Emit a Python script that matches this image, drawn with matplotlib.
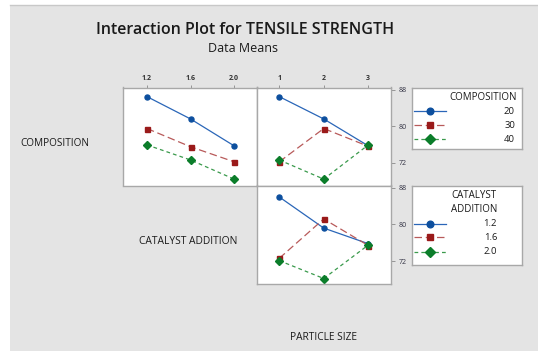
import matplotlib
matplotlib.use("Agg")
import matplotlib.pyplot as plt
from matplotlib.patches import Rectangle
from matplotlib.lines import Line2D

W, H = 538, 351

# Factor levels
composition = [20, 30, 40]
catalyst = [1.2, 1.6, 2.0]
particle = [1, 2, 3]

# Mean tensile strength: catalyst addition on x, one line per composition
comp_by_catalyst = {
    20: [86.5, 81.6, 75.7],
    30: [79.5, 75.5, 72.2],
    40: [75.9, 72.6, 68.4],
}
# particle size on x, one line per composition
comp_by_particle = {
    20: [86.5, 81.6, 75.7],
    30: [72.2, 79.5, 75.6],
    40: [72.6, 68.4, 75.9],
}
# particle size on x, one line per catalyst addition
cat_by_particle = {
    1.2: [86.0, 79.2, 75.8],
    1.6: [72.6, 81.2, 75.4],
    2.0: [72.1, 68.2, 75.5],
}

y_ticks = [72, 80, 88]
catalyst_ticks = ["1.2", "1.6", "2.0"]
particle_ticks = ["1", "2", "3"]

styles = [
    dict(color="#2a66b8", mfc="#0d4f9e", mec="#0d4f9e", marker="o", ms=3.6, ls="-", lw=0.9),
    dict(color="#b85a5a", mfc="#9a1a1a", mec="#9a1a1a", marker="s", ms=3.6, ls=(0, (6, 3)), lw=0.9),
    dict(color="#3a9a4c", mfc="#0b7d2a", mec="#0b7d2a", marker="D", ms=3.6, ls=(0, (3, 2.5)), lw=0.9),
]

FONT = "Open Sans"
TXT = "#1a1a1a"


def rect(x0, y0, x1, y1):
    return [x0 / W, 1 - y1 / H, (x1 - x0) / W, (y1 - y0) / H]


fig = plt.figure(figsize=(W / 100, H / 100), dpi=100)
fig.patch.set_facecolor("white")
fig.add_artist(Rectangle((10 / W, 0), 1, 1 - 5 / H, transform=fig.transFigure,
                         facecolor="#e4e4e4", edgecolor="none", zorder=0))
fig.add_artist(Line2D([10 / W, 1], [1 - 5 / H, 1 - 5 / H], transform=fig.transFigure,
                      color="#c8c8c8", lw=1, zorder=1))

fig.text(245 / W, 1 - 30 / H, "Interaction Plot for TENSILE STRENGTH", ha="center", va="center",
         fontsize=11.5, family=FONT, weight="semibold", color=TXT)
fig.text(243 / W, 1 - 49 / H, "Data Means", ha="center", va="center",
         fontsize=9, family=FONT, color=TXT)

YLIM = (67.0, 88.5)


def panel(r, xs, series, xlim, top_labels=None, right_ticks=False):
    ax = fig.add_axes(rect(*r))
    ax.set_facecolor("white")
    for (k, vals), st in zip(series.items(), styles):
        ax.plot(xs, vals, **st)
    ax.set_xlim(*xlim)
    ax.set_ylim(*YLIM)
    for s in ax.spines.values():
        s.set_color("#a8a8a8")
        s.set_linewidth(1.0)
    if top_labels is not None:
        ax.xaxis.tick_top()
        ax.set_xticks(xs)
        ax.set_xticklabels(top_labels, fontsize=5, family=FONT, weight="bold", color="#333333")
        ax.tick_params(axis="x", length=2, width=0.6, color="#888888", pad=2)
    else:
        ax.set_xticks([])
    if right_ticks:
        ax.yaxis.tick_right()
        ax.set_yticks(y_ticks)
        ax.set_yticklabels([str(t) for t in y_ticks], fontsize=5, family=FONT, color="#333344")
        ax.tick_params(axis="y", length=3, width=0.6, color="#888888", pad=3)
    else:
        ax.set_yticks([])
    return ax


panel((123, 87.5, 257, 185.5), catalyst, comp_by_catalyst, (0.98, 2.21), top_labels=catalyst_ticks)
panel((257, 87.5, 390.5, 185.5), particle, comp_by_particle, (0.5, 3.5),
      top_labels=particle_ticks, right_ticks=True)
panel((257, 185.5, 390.5, 284), particle, cat_by_particle, (0.5, 3.5), right_ticks=True)

fig.text(20 / W, 1 - 143 / H, "COMPOSITION", ha="left", va="center", fontsize=7.2,
         family=FONT, color=TXT)
fig.text(188 / W, 1 - 241 / H, "CATALYST ADDITION", ha="center", va="center", fontsize=7.4,
         family=FONT, color=TXT)
fig.text(323 / W, 1 - 338 / H, "PARTICLE SIZE", ha="center", va="center", fontsize=7.3,
         family=FONT, color=TXT)


def legend_box(r, title_lines, title_x, title_ys, labels, label_x, entry_ys):
    x0, y0, x1, y1 = r
    lax = fig.add_axes(rect(x0, y0, x1, y1))
    lax.set_xlim(x0, x1)
    lax.set_ylim(y1, y0)
    lax.set_xticks([])
    lax.set_yticks([])
    lax.set_facecolor("white")
    for s in lax.spines.values():
        s.set_color("#a8a8a8")
        s.set_linewidth(1.0)
    for t, ty in zip(title_lines, title_ys):
        lax.text(title_x, ty, t, ha="center", va="center", fontsize=7.0, family=FONT,
                 color=TXT)
    for lab, ey, st in zip(labels, entry_ys, styles):
        lax.plot([414, 446], [ey, ey], color=st["color"], ls=st["ls"], lw=st["lw"])
        lax.plot([430], [ey], marker=st["marker"], ms=st["ms"] + 1.2, mfc=st["mfc"],
                 mec=st["mec"], ls="none")
        lax.text(label_x, ey, lab, ha="right", va="center", fontsize=6.8, family=FONT, color=TXT)


legend_box((412, 87.5, 522, 148.5), ["COMPOSITION"], 483, [97],
           [str(c) for c in composition], 515, [111, 125, 139])
legend_box((412, 186, 522, 265), ["CATALYST", "ADDITION"], 474, [196, 209],
           catalyst_ticks, 497, [224, 237, 252])

fig.savefig("out.png", dpi=100, facecolor=fig.get_facecolor())
